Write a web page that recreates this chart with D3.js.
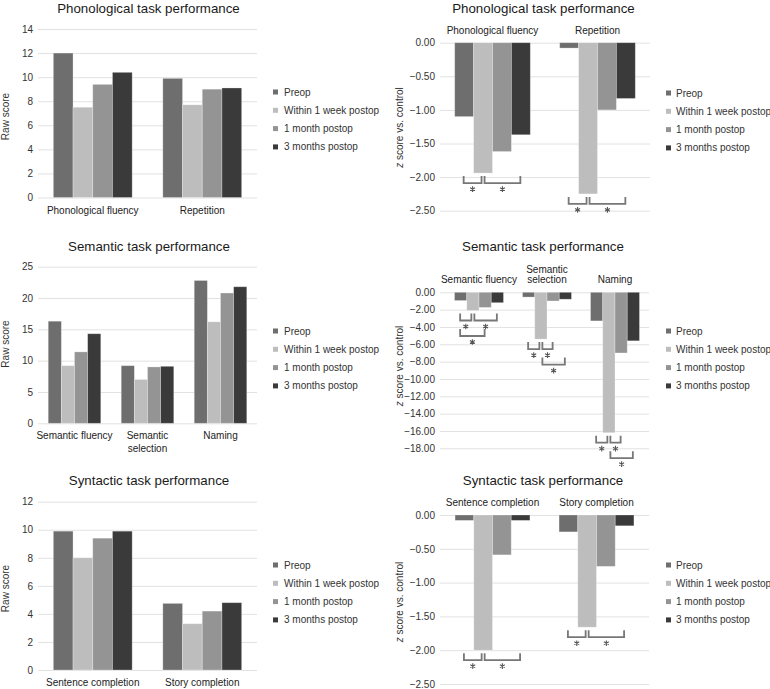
<!DOCTYPE html>
<html>
<head>
<meta charset="utf-8">
<script src="https://cdn.jsdelivr.net/npm/d3@7"></script>
<style>
  html, body { margin: 0; padding: 0; background: #fff; }
  svg { display: block; }
</style>
</head>
<body>
<svg id="chart" width="770" height="689"></svg>
<script>
// ---------------- DATA ----------------
const seriesNames = ["Preop", "Within 1 week postop", "1 month postop", "3 months postop"];
const seriesColors = ["#6e6e6e", "#bdbdbd", "#949494", "#3a3a3a"];

// Phonological
const phonCategories = ["Phonological fluency", "Repetition"];
const phonRaw = [[12.0, 7.5, 9.4, 10.4], [9.9, 7.7, 9.0, 9.1]];
const phonZ = [[-1.10, -1.94, -1.62, -1.37], [-0.08, -2.25, -1.00, -0.83]];
const phonRawTicks = [0, 2, 4, 6, 8, 10, 12, 14];
const phonZTicks = [0, -0.5, -1.0, -1.5, -2.0, -2.5];
// brackets: [category index, from series, to series, level]
const phonBrackets = [[0, 0, 1, 1], [0, 1, 3, 1], [1, 0, 1, 1], [1, 1, 3, 1]];

// Semantic
const semCategories = ["Semantic fluency", "Semantic\nselection", "Naming"];
const semRaw = [[16.3, 9.2, 11.4, 14.3], [9.2, 7.0, 9.0, 9.1], [22.8, 16.2, 20.8, 21.8]];
const semZ = [[-0.95, -2.1, -1.75, -1.2], [-0.55, -5.4, -1.0, -0.8], [-3.3, -16.2, -7.0, -5.6]];
const semRawTicks = [0, 5, 10, 15, 20, 25];
const semZTicks = [0, -2, -4, -6, -8, -10, -12, -14, -16, -18];
const semBrackets = [[0, 0, 1, 1], [0, 1, 3, 1], [0, 0, 2, 2],
                     [1, 0, 1, 1], [1, 1, 2, 1], [1, 1, 3, 2],
                     [2, 0, 1, 1], [2, 1, 2, 1], [2, 1, 3, 2]];

// Syntactic
const synCategories = ["Sentence completion", "Story completion"];
const synRaw = [[9.9, 8.0, 9.4, 9.9], [4.75, 3.3, 4.2, 4.8]];
const synZ = [[-0.08, -2.0, -0.59, -0.08], [-0.25, -1.66, -0.76, -0.16]];
const synRawTicks = [0, 2, 4, 6, 8, 10, 12];
const synZTicks = [0, -0.5, -1.0, -1.5, -2.0, -2.5];
const synBrackets = [[0, 0, 1, 1], [0, 1, 3, 1], [1, 0, 1, 1], [1, 1, 3, 1]];

// ---------------- DRAWING ----------------
const FONT = "'Liberation Sans', Arial, Helvetica, sans-serif";
const svg = d3.select("#chart").style("font-family", FONT);
const asterisk = d3.symbol(d3.symbolAsterisk, 22);

function drawPanel(c) {
  const g = svg.append("g");
  const y = d3.scaleLinear().domain(c.domain).range([c.yBot, c.yTop]);
  const gx0 = c.gx0 !== undefined ? c.gx0 : c.x0;
  const gx1 = c.gx1 !== undefined ? c.gx1 : c.x1;

  // grid + tick labels
  const axis = d3.axisLeft(y).tickValues(c.ticks).tickFormat(c.fmt)
    .tickSize(-(gx1 - gx0)).tickPadding(5);
  const ax = g.append("g").attr("transform", `translate(${gx0},0)`).call(axis);
  ax.select(".domain").remove();
  ax.selectAll(".tick line").attr("stroke", "#e2e2e2").attr("stroke-width", 1);
  ax.selectAll(".tick text").attr("fill", "#333").style("font-size", "10px").style("font-family", FONT);

  // x scales
  const xb = d3.scaleBand().domain(d3.range(c.categories.length)).range([c.x0, c.x1])
    .paddingInner(0.28).paddingOuter(0.14);
  const xs = d3.scaleBand().domain(d3.range(seriesNames.length)).range([0, xb.bandwidth()]);

  // bars
  c.values.forEach((row, ci) => {
    g.selectAll(null).data(row).enter().append("rect")
      .attr("x", (d, si) => xb(ci) + xs(si))
      .attr("width", xs.bandwidth())
      .attr("y", d => Math.min(y(d), y(0)))
      .attr("height", d => Math.abs(y(d) - y(0)))
      .attr("fill", (d, si) => seriesColors[si])
      .attr("stroke", "rgba(255,255,255,0.35)")
      .attr("stroke-width", 0.8);
  });

  // category labels
  c.categories.forEach((cat, ci) => {
    const lines = cat.split("\n");
    const cx = xb(ci) + xb.bandwidth() / 2;
    lines.forEach((ln, li) => {
      const yy = c.catTop ? c.catY - (lines.length - 1 - li) * c.catLH : c.catY + li * c.catLH;
      g.append("text").attr("x", cx).attr("y", yy).attr("text-anchor", "middle")
        .attr("fill", "#222").style("font-size", "10px").text(ln);
    });
  });

  // title
  g.append("text").attr("x", c.titleX).attr("y", c.titleY).attr("text-anchor", "middle")
    .attr("fill", "#1a1a1a").style("font-size", "13.3px").text(c.title);

  // y axis title
  const yt = g.append("text")
    .attr("transform", `translate(${c.yTitleX},${c.yTitleY}) rotate(-90)`)
    .attr("text-anchor", "middle").attr("dominant-baseline", "central")
    .attr("fill", "#333").style("font-size", "10px");
  if (c.zTitle) {
    yt.append("tspan").style("font-style", "italic").text("z");
    yt.append("tspan").text(" score vs. control");
  } else {
    yt.text("Raw score");
  }

  // legend
  const lg = g.append("g");
  seriesNames.forEach((s, i) => {
    const cy = c.legY + i * 18.3;
    lg.append("rect").attr("x", c.legSqX).attr("y", cy - 2.5).attr("width", 5).attr("height", 5)
      .attr("fill", seriesColors[i]);
    lg.append("text").attr("x", c.legTextX).attr("y", cy).attr("dominant-baseline", "central")
      .attr("fill", "#333").style("font-size", "10px").text(s);
  });

  // significance brackets
  if (c.brackets) {
    c.brackets.forEach(([ci, a, b, level]) => {
      const base = y(d3.min(c.values[ci]));
      const ca = xb(ci) + xs(a) + xs.bandwidth() / 2 + (a === 1 ? 1.5 : -0.5);
      const cb = xb(ci) + xs(b) + xs.bandwidth() / 2 - (b === 1 ? 1.5 : 0.5);
      const off = (level - 1) * 15.5;
      const top = base + 3 + off, bot = base + 10 + off;
      g.append("path")
        .attr("d", `M${ca},${top}V${bot}H${cb}V${top}`)
        .attr("fill", "none").attr("stroke", "#777").attr("stroke-width", 1.8);
      g.append("path")
        .attr("transform", `translate(${(ca + cb) / 2},${bot + 6})`)
        .attr("d", asterisk())
        .attr("fill", "none").attr("stroke", "#555").attr("stroke-width", 1.1);
    });
  }
}

const fmtRaw = d3.format("d");
const fmtZ = d3.format(".2f");

// Top-left
drawPanel({ x0: 38, x1: 257, yTop: 29, yBot: 197.5, domain: [0, 14], ticks: phonRawTicks, fmt: fmtRaw,
  categories: phonCategories, values: phonRaw, title: "Phonological task performance", titleX: 148.5, titleY: 13,
  catY: 213.5, catLH: 12.4, catTop: false, yTitleX: 5.5, yTitleY: 116.5,
  legY: 92, legSqX: 273, legTextX: 284 });
// Top-right
drawPanel({ x0: 440, x1: 650, yTop: 42.7, yBot: 210.7, domain: [-2.5, 0], ticks: phonZTicks, fmt: fmtZ,
  categories: phonCategories, values: phonZ, title: "Phonological task performance", titleX: 543.5, titleY: 13,
  catY: 34, catLH: 10.7, catTop: true, yTitleX: 399, yTitleY: 127.5, zTitle: true,
  legY: 93, legSqX: 666, legTextX: 676, brackets: phonBrackets });
// Middle-left
drawPanel({ x0: 38, x1: 257, yTop: 266.7, yBot: 423.3, domain: [0, 25], ticks: semRawTicks, fmt: fmtRaw,
  categories: semCategories, values: semRaw, title: "Semantic task performance", titleX: 149, titleY: 250.5,
  catY: 439.3, catLH: 12.4, catTop: false, yTitleX: 5.5, yTitleY: 344,
  legY: 331, legSqX: 273, legTextX: 284 });
// Middle-right
drawPanel({ x0: 445, x1: 649, gx0: 440, gx1: 649, yTop: 292.3, yBot: 448.3, domain: [-18, 0], ticks: semZTicks, fmt: fmtZ,
  categories: semCategories, values: semZ, title: "Semantic task performance", titleX: 543, titleY: 250.5,
  catY: 283.3, catLH: 10.7, catTop: true, yTitleX: 399, yTitleY: 366, zTitle: true,
  legY: 331, legSqX: 666, legTextX: 676, brackets: semBrackets });
// Bottom-left
drawPanel({ x0: 38, x1: 257, yTop: 501.7, yBot: 670, domain: [0, 12], ticks: synRawTicks, fmt: fmtRaw,
  categories: synCategories, values: synRaw, title: "Syntactic task performance", titleX: 149, titleY: 485,
  catY: 686, catLH: 12.4, catTop: false, yTitleX: 5.5, yTitleY: 588.5,
  legY: 565, legSqX: 273, legTextX: 284 });
// Bottom-right
drawPanel({ x0: 440.5, x1: 648.5, gx0: 440, gx1: 649, yTop: 515, yBot: 684, domain: [-2.5, 0], ticks: synZTicks, fmt: fmtZ,
  categories: synCategories, values: synZ, title: "Syntactic task performance", titleX: 543, titleY: 485,
  catY: 506, catLH: 10.7, catTop: true, yTitleX: 399, yTitleY: 602, zTitle: true,
  legY: 565, legSqX: 666, legTextX: 676, brackets: synBrackets });
</script>
</body>
</html>
